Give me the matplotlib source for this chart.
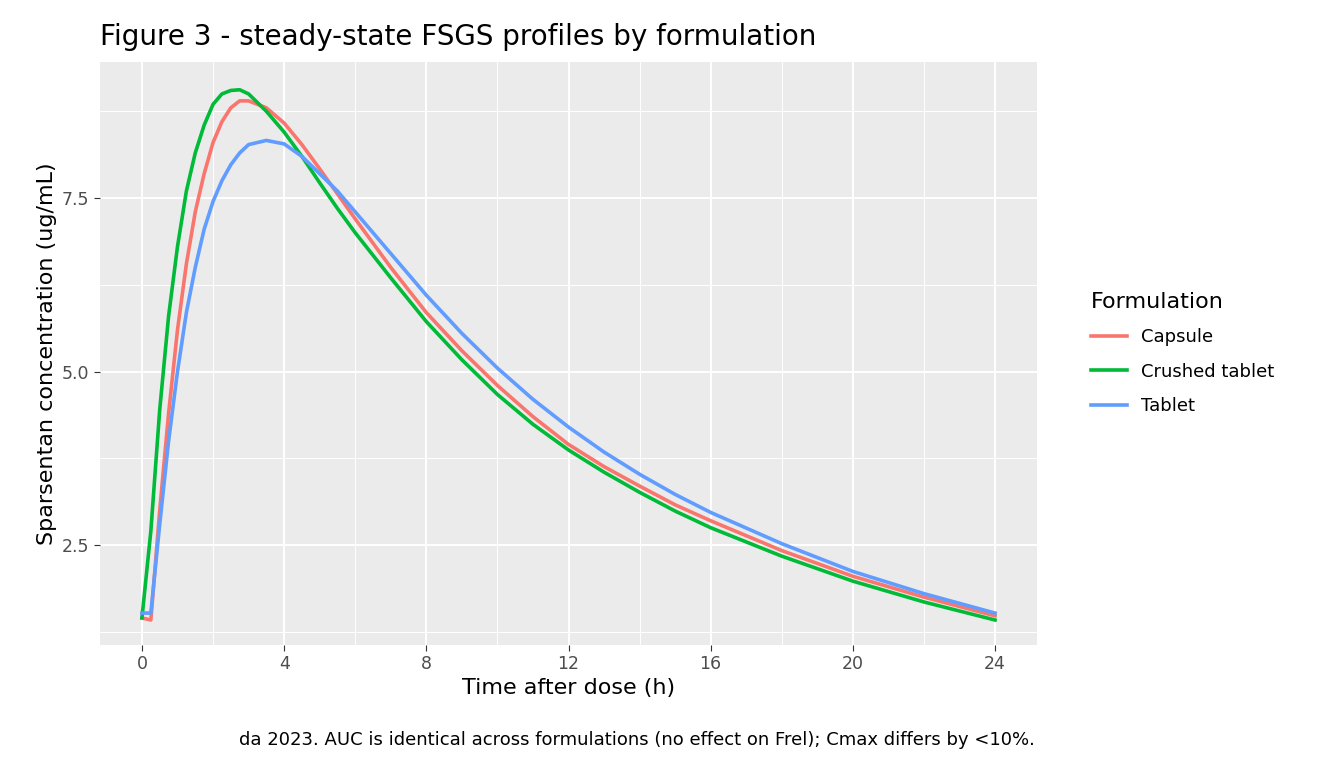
import matplotlib.pyplot as plt

# time points (h) and concentrations
t = [0, 0.25, 0.5, 0.75, 1, 1.25, 1.5, 1.75, 2, 2.25, 2.5, 2.75, 3, 3.5, 4, 4.5,
     5, 5.5, 6, 7, 8, 9, 10, 11, 12, 13, 14, 15, 16, 18, 20, 22, 24]
capsule = [1.45, 1.42, 3.0, 4.4, 5.6, 6.55, 7.3, 7.85, 8.3, 8.6, 8.8, 8.9, 8.9, 8.8, 8.58, 8.27,
           7.92, 7.56, 7.2, 6.5, 5.85, 5.3, 4.8, 4.35, 3.95, 3.63, 3.35, 3.08, 2.85, 2.42, 2.05, 1.75, 1.48]
crushed = [1.45, 2.7, 4.45, 5.8, 6.8, 7.6, 8.15, 8.55, 8.85, 9.0, 9.05, 9.06, 9.0, 8.75, 8.45, 8.1,
           7.72, 7.35, 7.0, 6.35, 5.72, 5.17, 4.67, 4.24, 3.87, 3.55, 3.26, 2.99, 2.75, 2.34, 1.98, 1.68, 1.42]
tablet = [1.52, 1.52, 2.8, 4.0, 5.0, 5.85, 6.5, 7.05, 7.45, 7.75, 7.98, 8.15, 8.27, 8.33, 8.28, 8.1,
          7.85, 7.6, 7.3, 6.7, 6.1, 5.55, 5.05, 4.6, 4.2, 3.84, 3.52, 3.23, 2.97, 2.52, 2.12, 1.8, 1.52]
names = ["Capsule", "Crushed tablet", "Tablet"]
colors = ["#F8766D", "#00BA38", "#619CFF"]

fig = plt.figure(figsize=(13.44, 7.68), dpi=100)
ax = fig.add_axes([100/1344, 1-645/768, 937/1344, 583/768])
ax.set_facecolor("#EBEBEB")
for y, n, c in zip([capsule, crushed, tablet], names, colors):
    ax.plot(t, y, color=c, lw=2.6, label=n)

ax.set_xlim(-1.18, 25.18)
ax.set_ylim(1.06, 9.46)
ax.set_xticks([0, 4, 8, 12, 16, 20, 24])
ax.set_xticks([2, 6, 10, 14, 18, 22], minor=True)
ax.set_yticks([2.5, 5.0, 7.5])
ax.set_yticklabels(["2.5", "5.0", "7.5"])
ax.set_yticks([1.25, 3.75, 6.25, 8.75], minor=True)
ax.grid(which="major", color="white", lw=1.4)
ax.grid(which="minor", color="white", lw=0.7)
ax.set_axisbelow(True)
for s in ax.spines.values():
    s.set_visible(False)
ax.tick_params(which="major", length=4, color="#333333", labelsize=12.5, labelcolor="#4D4D4D")
ax.tick_params(which="minor", length=0)
ax.set_xlabel("Time after dose (h)", fontsize=16, labelpad=3)
ax.set_ylabel("Sparsentan concentration (ug/mL)", fontsize=16, labelpad=4)
ax.set_title("Figure 3 - steady-state FSGS profiles by formulation", fontsize=20, loc="left", x=0, pad=12)

leg = ax.legend(title="Formulation", loc="center left", bbox_to_anchor=(1.04, 0.5),
                frameon=False, fontsize=13, title_fontsize=16, handlelength=2,
                labelspacing=0.9)
leg._legend_box.align = "left"
for h in leg.get_lines():
    h.set_path_effects([])

fig.text(1035/1344, 1-740/768,
         "da 2023. AUC is identical across formulations (no effect on Frel); Cmax differs by <10%.",
         ha="right", va="center", fontsize=13)
fig.savefig("out.png")
